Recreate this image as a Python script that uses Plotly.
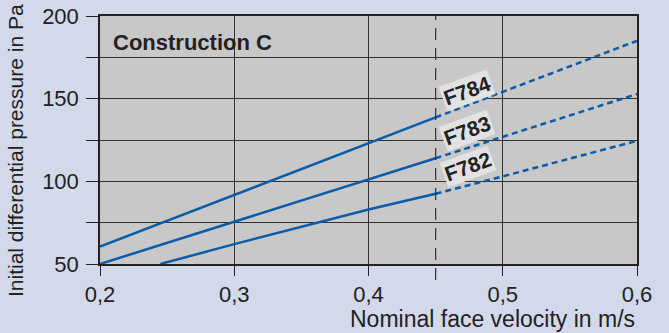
import plotly.graph_objects as go

# Data
v_solid_784 = [0.2, 0.3, 0.4, 0.45]
p_solid_784 = [60.5, 91.7, 123.0, 138.7]
v_dash_784 = [0.45, 0.5, 0.6]
p_dash_784 = [138.7, 154.0, 185.0]

v_solid_783 = [0.2, 0.3, 0.4, 0.45]
p_solid_783 = [50.0, 75.6, 101.0, 114.0]
v_dash_783 = [0.45, 0.5, 0.6]
p_dash_783 = [114.0, 127.0, 152.8]

v_solid_782 = [0.245, 0.3, 0.4, 0.45]
p_solid_782 = [50.0, 62.0, 83.0, 92.5]
v_dash_782 = [0.45, 0.5, 0.6]
p_dash_782 = [92.5, 103.0, 124.5]

labels = ["F784", "F783", "F782"]
label_x = [0.4734, 0.4734, 0.474]
label_y = [155.0, 131.0, 109.0]

x_ticks = [0.2, 0.3, 0.4, 0.5, 0.6]
x_ticktext = ["0,2", "0,3", "0,4", "0,5", "0,6"]
y_ticks = [50, 75, 100, 125, 150, 175, 200]
y_ticktext = ["50", "", "100", "", "150", "", "200"]

LINE = "#0c5ba8"
FONT = "Liberation Sans, Arial, sans-serif"
TXT = "#222222"

fig = go.Figure()
series = [
    (v_solid_784, p_solid_784, v_dash_784, p_dash_784),
    (v_solid_783, p_solid_783, v_dash_783, p_dash_783),
    (v_solid_782, p_solid_782, v_dash_782, p_dash_782),
]
for vs, ps, vd, pd_ in series:
    fig.add_trace(go.Scatter(x=vs, y=ps, mode="lines",
                             line=dict(color=LINE, width=2.5), showlegend=False))
    fig.add_trace(go.Scatter(x=vd, y=pd_, mode="lines",
                             line=dict(color=LINE, width=2.5, dash="6px,4px"), showlegend=False))

fig.add_shape(type="line", xref="x", yref="paper", x0=0.45, x1=0.45, y0=-0.065, y1=1,
              line=dict(color="#333333", width=1.2, dash="12px,8px"), layer="above")

for t, x, y in zip(labels, label_x, label_y):
    fig.add_annotation(x=x, y=y, xref="x", yref="y", text="<b>%s</b>" % t, showarrow=False,
                       textangle=-20, bgcolor="#e2e2e2", borderpad=1,
                       font=dict(family=FONT, size=21, color=TXT))

fig.add_annotation(x=0.2, y=1, xref="x", yref="paper", xshift=11, yshift=-26,
                   text="<b>Construction C</b>", showarrow=False, xanchor="left", yanchor="middle",
                   font=dict(family=FONT, size=22, color=TXT))

fig.add_annotation(x=1, y=0, xref="paper", yref="paper", yshift=-55, text="Nominal face velocity in m/s",
                   showarrow=False, xanchor="right", yanchor="middle",
                   font=dict(family=FONT, size=23, color=TXT))

fig.add_annotation(x=0, y=0.5, xref="paper", yref="paper", xshift=-85, yshift=-11,
                   text="Initial differential pressure in Pa", textangle=-90,
                   showarrow=False, xanchor="center", yanchor="middle",
                   font=dict(family=FONT, size=21, color=TXT))

fig.update_xaxes(range=[0.2, 0.6], tickvals=x_ticks, ticktext=x_ticktext, automargin=False,
                 ticks="outside", ticklen=10, tickcolor="#222", tickwidth=1.2,
                 showgrid=True, gridcolor="#333333", gridwidth=1,
                 showline=True, linecolor="#222", linewidth=1.5, mirror=True,
                 zeroline=False, tickfont=dict(family=FONT, size=22, color=TXT))
fig.update_yaxes(range=[50, 200], tickvals=y_ticks, ticktext=y_ticktext, automargin=False,
                 ticks="outside", ticklen=12, tickcolor="#222", tickwidth=1.2,
                 ticklabelstandoff=3,
                 showgrid=True, gridcolor="#333333", gridwidth=1,
                 showline=True, linecolor="#222", linewidth=1.5, mirror=True,
                 zeroline=False, tickfont=dict(family=FONT, size=22, color=TXT))

fig.update_layout(width=669, height=333, margin=dict(l=100, r=32, t=16, b=69, autoexpand=False),
                  paper_bgcolor="#d3d9eb", plot_bgcolor="#c8c8c8",
                  font=dict(family=FONT, color=TXT))

fig.write_html("out.html", config={"displayModeBar": False},
               post_script="document.body.style.margin='0';document.body.style.overflow='hidden';")
